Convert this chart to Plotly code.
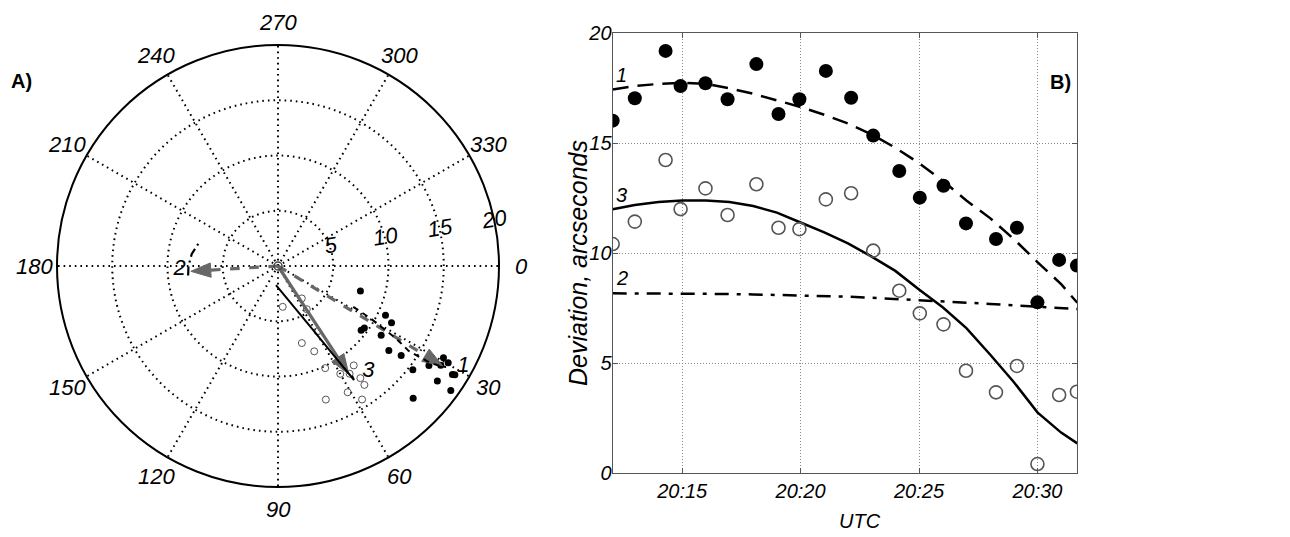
import numpy as np
import plotly.graph_objects as go

# ---------------- Data: panel B (time series) ----------------
day = "2020-01-01 "
obs_times = ["20:12:04", "20:13:00", "20:14:18", "20:14:56", "20:15:59", "20:16:55",
             "20:18:08", "20:19:04", "20:19:57", "20:21:04", "20:22:08", "20:23:04",
             "20:24:10", "20:25:02", "20:26:02", "20:26:59", "20:28:15", "20:29:08",
             "20:30:00", "20:30:55", "20:31:40"]
dev_filled = [16.03, 17.05, 19.2, 17.6, 17.73, 17.0, 18.6, 16.33, 17.0, 18.29, 17.07,
              15.35, 13.74, 12.53, 13.07, 11.36, 10.65, 11.16, 7.77, 9.7, 9.44]
dev_open = [10.42, 11.44, 14.24, 12.01, 12.95, 11.74, 13.14, 11.16, 11.1, 12.45, 12.73,
            10.12, 8.3, 7.27, 6.77, 4.66, 3.68, 4.88, 0.42, 3.56, 3.71]

fit_times = ["20:12:04", "20:13:00", "20:14:00", "20:15:00", "20:16:00", "20:17:00",
             "20:18:00", "20:19:00", "20:20:00", "20:21:00", "20:22:00", "20:23:00",
             "20:24:00", "20:25:00", "20:26:00", "20:27:00", "20:28:00", "20:29:00",
             "20:30:00", "20:31:00", "20:31:41"]
fit1 = [17.45, 17.6, 17.7, 17.75, 17.7, 17.5, 17.25, 16.95, 16.65, 16.3, 15.9, 15.4,
        14.8, 14.1, 13.3, 12.4, 11.6, 10.65, 9.6, 8.6, 7.75]
fit2 = [8.18, 8.18, 8.17, 8.17, 8.16, 8.15, 8.13, 8.11, 8.1, 8.07, 8.03, 7.98, 7.93,
        7.88, 7.82, 7.76, 7.7, 7.63, 7.57, 7.51, 7.47]
fit3 = [12.0, 12.2, 12.33, 12.4, 12.4, 12.33, 12.15, 11.85, 11.4, 10.95, 10.45, 9.85,
        9.2, 8.35, 7.55, 6.6, 5.4, 4.15, 2.77, 1.85, 1.36]

x_tick_vals = ["20:15:00", "20:20:00", "20:25:00", "20:30:00"]
x_tick_text = ["20:15", "20:20", "20:25", "20:30"]
x_range = ["20:12:04", "20:31:41"]
y_ticks = [0, 5, 10, 15, 20]
curve_names = ["1", "2", "3"]
curve_label_y = [18.1, 8.88, 12.65]
y_title = "Deviation, arcseconds"
x_title = "UTC"

# ---------------- Data: panel A (polar) ----------------
pol_filled_r = [7.79, 10.70, 11.49, 9.51, 9.62, 11.25, 12.61, 13.78, 15.40, 17.12,
                17.78, 17.12, 17.71, 17.26, 18.59, 18.79, 19.28, 16.36]
pol_filled_th = [16.8, 24.6, 26.6, 37.7, 35.7, 33.9, 37.3, 36.0, 37.6, 44.4,
                 35.8, 29.0, 29.6, 31.4, 31.9, 31.6, 35.8, 33.4]
pol_open_r = [3.64, 3.72, 4.70, 6.91, 7.30, 8.39, 10.18, 11.27, 11.31, 11.71, 12.59,
              13.3, 13.05, 14.28, 12.84]
pol_open_th = [53.7, 83.4, 56.3, 58.8, 72.8, 67.0, 65.2, 60.0, 52.7, 56.4, 53.7,
               54.0, 61.1, 57.8, 70.3]
arrow_r = [17.4, 7.9, 11.7]
arrow_th = [31.2, 176.5, 56.8]
arrow_dash = ["dash", "dash", "solid"]

pcurve1_r = [7.75, 9.6, 12.5, 14.1, 16.3, 17.45, 17.75]
pcurve1_th = [28.5, 29.5, 31.5, 33.0, 32.5, 31.5, 31.0]
pcurve2_r = [8.18, 8.1, 7.88, 7.47]
pcurve2_th = [174.0, 180.0, 188.0, 196.0]
pcurve3_r = [12.0, 12.4, 9.25, 6.6, 4.06, 1.74]
pcurve3_th = [56.0, 56.3, 58.3, 61.3, 68.3, 96.0]

plabel_text = ["1", "2", "3"]
plabel_r = [19.1, 8.9, 12.6]
plabel_th = [28.5, 177.7, 49.5]

angle_ticks = list(range(0, 360, 30))
angle_tick_text = [str(a) for a in angle_ticks]
radial_ticks = [5, 10, 15, 20]
r_max = 20

FONT = "Arial"
GRAY_ARROW = "#676767"
W, H = 1290, 537
# polar frame geometry (pixels)
P_LEFT, P_RIGHT, P_TOP, P_BOTTOM = 57, 499, 45, 487
LABEL_RADIUS_FACTOR = 1.1   # angular labels sit just outside the rim

fig = go.Figure()

# ---- Polar panel ----
fig.add_trace(go.Scatterpolar(r=pol_filled_r, theta=pol_filled_th, mode="markers",
                              marker=dict(size=7, color="black"), showlegend=False))
fig.add_trace(go.Scatterpolar(r=pol_open_r, theta=pol_open_th, mode="markers",
                              marker=dict(size=7, color="rgba(0,0,0,0)",
                                          line=dict(color="#555555", width=1)),
                              showlegend=False))

head_len, head_w = 1.8, 0.65
for r_t, th_t, dsh in zip(arrow_r, arrow_th, arrow_dash):
    t = np.radians(th_t)
    ux, uy = np.cos(t), np.sin(t)
    tx, ty = r_t * ux, r_t * uy
    bx, by = tx - head_len * ux, ty - head_len * uy
    nx, ny = -uy, ux
    px = np.array([tx, bx + head_w * nx, bx - head_w * nx, tx])
    py = np.array([ty, by + head_w * ny, by - head_w * ny, ty])
    fig.add_trace(go.Scatterpolar(r=[0, r_t - head_len], theta=[th_t, th_t], mode="lines",
                                  line=dict(color=GRAY_ARROW, width=3.2, dash=dsh),
                                  showlegend=False))
    fig.add_trace(go.Scatterpolar(r=np.hypot(px, py), theta=np.degrees(np.arctan2(py, px)),
                                  mode="lines", fill="toself", fillcolor=GRAY_ARROW,
                                  line=dict(color=GRAY_ARROW, width=1), showlegend=False))

fig.add_trace(go.Scatterpolar(r=pcurve1_r, theta=pcurve1_th, mode="lines",
                              line=dict(color="black", width=2, dash="6px,5px"),
                              showlegend=False))
fig.add_trace(go.Scatterpolar(r=pcurve2_r, theta=pcurve2_th, mode="lines",
                              line=dict(color="black", width=2.2, dash="9px,4px,2px,4px"),
                              showlegend=False))
fig.add_trace(go.Scatterpolar(r=pcurve3_r, theta=pcurve3_th, mode="lines",
                              line=dict(color="black", width=2), showlegend=False))
fig.add_trace(go.Scatterpolar(r=[0], theta=[0], mode="markers",
                              marker=dict(size=8, color="rgba(0,0,0,0)",
                                          line=dict(color="#444444", width=1.5)),
                              showlegend=False))
fig.add_trace(go.Scatterpolar(r=plabel_r, theta=plabel_th, mode="text", text=plabel_text,
                              textfont=dict(family=FONT, size=22, color="black", style="italic"),
                              showlegend=False))

# ---- Cartesian panel ----
fx = [day + t for t in fit_times]
ox = [day + t for t in obs_times]
fig.add_trace(go.Scatter(x=fx, y=fit1, mode="lines",
                         line=dict(color="black", width=2.5, dash="16px,9px"), showlegend=False))
fig.add_trace(go.Scatter(x=fx, y=fit2, mode="lines",
                         line=dict(color="black", width=2.5, dash="14px,8px,4px,8px"),
                         showlegend=False))
fig.add_trace(go.Scatter(x=fx, y=fit3, mode="lines",
                         line=dict(color="black", width=2.5), showlegend=False))
fig.add_trace(go.Scatter(x=ox, y=dev_filled, mode="markers",
                         marker=dict(size=14, color="black"), showlegend=False))
fig.add_trace(go.Scatter(x=ox, y=dev_open, mode="markers",
                         marker=dict(size=13, color="rgba(0,0,0,0)",
                                     line=dict(color="#555555", width=1.6)),
                         showlegend=False))

tickfont_it = dict(family=FONT, size=20, color="black", style="italic")
polar_font = dict(family=FONT, size=22, color="black", style="italic")

fig.update_layout(
    template="none",
    width=W, height=H,
    margin=dict(l=0, r=0, t=0, b=0, autoexpand=False),
    paper_bgcolor="white", plot_bgcolor="white",
    font=dict(family=FONT, color="black"),
    showlegend=False,
    polar=dict(
        domain=dict(x=[P_LEFT / W, P_RIGHT / W], y=[(H - P_BOTTOM) / H, (H - P_TOP) / H]),
        bgcolor="white",
        angularaxis=dict(direction="clockwise", rotation=0, tickmode="array",
                         tickvals=angle_ticks, showticklabels=False,
                         showline=True, linecolor="black", linewidth=2,
                         showgrid=True, gridcolor="black", griddash="1.6px,4px", gridwidth=1.6,
                         ticks=""),
        radialaxis=dict(range=[0, r_max], tickmode="array", tickvals=radial_ticks,
                        ticktext=[str(v) for v in radial_ticks],
                        showline=False, ticks="", angle=9, side="counterclockwise",
                        tickangle=0,
                        showgrid=True, gridcolor="black", griddash="1.6px,4px", gridwidth=1.6,
                        tickfont=polar_font),
    ),
    xaxis=dict(domain=[612.7 / W, 1077.3 / W], type="date", automargin=False,
               range=[day + v for v in x_range],
               tickmode="array", tickvals=[day + v for v in x_tick_vals], ticktext=x_tick_text,
               showline=True, linecolor="#555555", linewidth=1.2, mirror="ticks",
               ticks="inside", ticklen=5, tickcolor="#555555",
               showgrid=True, gridcolor="#8a8a8a", griddash="1px,2px", gridwidth=1,
               zeroline=False, tickfont=tickfont_it),
    yaxis=dict(domain=[(H - 473.3) / H, (H - 33.3) / H], range=[0, 20], automargin=False,
               tickmode="array",
               tickvals=y_ticks, ticktext=[str(v) for v in y_ticks],
               showline=True, linecolor="#555555", linewidth=1.2, mirror="ticks",
               ticks="inside", ticklen=5, tickcolor="#555555", ticklabelstandoff=-4,
               showgrid=True, gridcolor="#8a8a8a", griddash="1px,2px", gridwidth=1,
               zeroline=False, tickfont=tickfont_it),
)

# angular tick labels: centred on a circle just outside the polar rim
cx = (P_LEFT + P_RIGHT) / 2
cy = (P_TOP + P_BOTTOM) / 2
rim = (P_RIGHT - P_LEFT) / 2
for ang, txt in zip(angle_ticks, angle_tick_text):
    a = np.radians(ang)
    lx = cx + rim * LABEL_RADIUS_FACTOR * np.cos(a)
    ly = cy + rim * LABEL_RADIUS_FACTOR * np.sin(a)   # clockwise: screen y grows downward
    fig.add_annotation(xref="paper", yref="paper", x=lx / W, y=1 - ly / H, text=txt,
                       showarrow=False, xanchor="center", yanchor="middle", font=polar_font)

# axis titles (placed like the reference)
fig.add_annotation(xref="paper", yref="paper", x=578 / W, y=1 - 263 / H, text=y_title,
                   textangle=-90, showarrow=False, xanchor="center", yanchor="middle",
                   font=dict(family=FONT, size=25, color="black", style="italic"))
fig.add_annotation(xref="paper", yref="paper", x=860 / W, y=1 - 521 / H, text=x_title,
                   showarrow=False, xanchor="center", yanchor="middle",
                   font=dict(family=FONT, size=20, color="black", style="italic"))

for name, yv in zip(curve_names, curve_label_y):
    fig.add_annotation(xref="paper", yref="y", x=614 / W, y=yv, text=name,
                       showarrow=False, xanchor="left", yanchor="middle",
                       font=dict(family=FONT, size=20, color="black", style="italic"))

fig.add_annotation(xref="paper", yref="paper", x=21 / W, y=1 - 81 / H, text="<b>A)</b>",
                   showarrow=False, xanchor="center", yanchor="middle",
                   font=dict(family=FONT, size=20, color="black"))
fig.add_annotation(xref="paper", yref="paper", x=1060 / W, y=1 - 82 / H, text="<b>B)</b>",
                   showarrow=False, xanchor="center", yanchor="middle",
                   font=dict(family=FONT, size=20, color="black"))

fig.write_html("out.html", config={"displayModeBar": False},
               post_script="document.body.style.margin='0px';")
